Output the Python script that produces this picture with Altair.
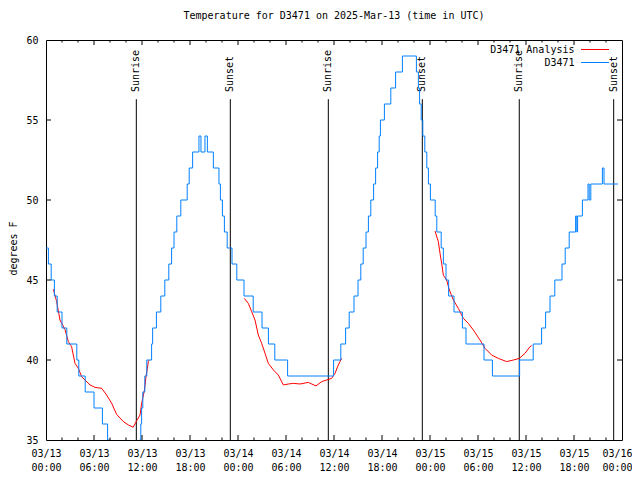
import altair as alt
import pandas as pd

# ---------------- data ----------------
# D3471 observations (change points, hours since 03/13 00:00 UTC, deg F)
blue_hours = [0.00, 0.30, 0.65, 1.05, 1.40, 2.00, 2.60, 3.85, 4.10, 4.90, 6.00, 7.05, 7.70, 8.00,
              11.70, 11.85, 11.95, 12.10, 12.35, 12.60, 13.20, 13.33, 13.80, 14.35, 14.85, 15.35,
              15.70, 16.00, 16.35, 16.85, 17.65, 17.90, 18.33, 19.12, 19.37, 19.87, 20.17, 20.92,
              21.62, 21.80, 22.05, 22.30, 22.65, 23.25, 23.85, 24.75, 25.90, 27.00, 27.80, 28.60,
              30.20, 35.95, 36.85, 37.45, 37.90, 38.50, 39.00, 39.35, 39.65, 40.00, 40.30, 40.60,
              40.95, 41.20, 41.45, 41.65, 41.80, 42.30, 43.10, 43.70, 44.55, 46.30, 46.55, 46.70,
              46.90, 47.10, 47.35, 47.60, 47.80, 48.05, 48.65, 48.85, 49.40, 49.67, 50.00, 50.33,
              51.00, 52.05, 52.50, 54.75, 55.80, 59.20, 60.90, 61.95, 62.45, 63.00, 63.60, 64.50,
              64.90, 65.40, 66.20, 66.35, 66.45, 67.05, 67.75, 67.90, 68.10, 69.55, 69.75, 71.50]
blue_temps = [47, 46, 45, 44, 43, 42, 41, 40, 39, 38, 37, 36, 35, 34,
              35, 36, 37, 38, 39, 40, 41, 42, 43, 44, 45, 46,
              47, 48, 49, 50, 51, 52, 53, 54, 53, 54, 53, 52,
              51, 50, 49, 48, 47, 46, 45, 44, 43, 42, 41, 40,
              39, 40, 41, 42, 43, 44, 45, 46, 47, 48, 49, 50,
              51, 52, 53, 54, 55, 56, 57, 58, 59, 58, 57, 56,
              55, 54, 53, 52, 51, 50, 49, 48, 47, 46, 45, 44,
              43, 42, 41, 40, 39, 40, 41, 42, 43, 44, 45, 46,
              47, 48, 49, 48, 49, 50, 51, 50, 51, 52, 51, 51]

# D3471 Analysis (three separate pieces)
red1_hours = [0.92, 1.33, 1.75, 2.375, 2.79, 3.2, 3.625, 4.04, 4.46, 4.875, 5.5, 6.125, 6.96,
              7.58, 8.2, 8.83, 9.67, 10.3, 10.9, 11.33, 11.75, 11.96, 12.3, 12.5, 12.8, 12.9]
red1_temps = [44.42, 43.65, 42.5, 41.9, 41.15, 40.83, 39.79, 39.48, 38.96, 38.75, 38.44, 38.29,
              38.23, 37.81, 37.3, 36.6, 36.15, 35.94, 35.8, 36.2, 36.56, 37.3, 38.1, 38.96, 39.9, 40.0]
red2_hours = [24.79, 25.29, 25.71, 26.125, 26.54, 26.96, 27.375, 27.79, 28.42, 29.04, 29.67,
              30.29, 30.92, 31.75, 32.79, 33.21, 33.75, 34.46, 35.08, 35.71, 36.125, 36.54, 36.96]
red2_temps = [43.85, 43.54, 43.02, 42.5, 41.56, 41.04, 40.42, 39.79, 39.38, 39.06, 38.44,
              38.5, 38.54, 38.5, 38.6, 38.5, 38.38, 38.65, 38.75, 38.85, 39.17, 39.69, 40.1]
red3_hours = [48.625, 49.04, 49.25, 49.46, 49.67, 50.08, 50.42, 50.92, 51.54, 52.17, 52.79,
              53.42, 54.25, 54.875, 55.71, 56.54, 57.58, 58.42, 59.17, 59.875, 60.5, 60.71]
red3_temps = [48.06, 47.4, 46.67, 46.04, 45.3, 45.0, 44.375, 43.75, 43.23, 42.6, 42.29,
              41.875, 41.25, 40.73, 40.31, 40.1, 39.9, 40.0, 40.1, 40.42, 40.83, 40.9]

event_hours = [11.29, 23.04, 35.29, 47.04, 59.16, 70.96]
event_labels = ["Sunrise", "Sunset", "Sunrise", "Sunset", "Sunrise", "Sunset"]

x_tick_values = list(range(0, 73, 6))
y_tick_values = [35, 40, 45, 50, 55, 60]
legend_labels = ["D3471 Analysis", "D3471"]
title_text = "Temperature for D3471 on 2025-Mar-13 (time in UTC)"
y_title = "degrees F"

# ---------------- tables ----------------
blue_df = pd.DataFrame({"h": blue_hours, "t": blue_temps})
red_df = pd.concat([
    pd.DataFrame({"h": red1_hours, "t": red1_temps, "seg": 1}),
    pd.DataFrame({"h": red2_hours, "t": red2_temps, "seg": 2}),
    pd.DataFrame({"h": red3_hours, "t": red3_temps, "seg": 3}),
])
ev_df = pd.DataFrame({"h": event_hours, "label": event_labels,
                      "top": 56.3, "bot": 35.0, "ylab": 56.75})
major_df = pd.DataFrame({"h": [v for v in x_tick_values if 0 < v < 72]})
minor_df = pd.DataFrame({"h": [v for v in range(2, 72, 2) if v % 6]})
ytick_df = pd.DataFrame({"t": [v for v in y_tick_values if 35 < v < 60]})

FONT = "DejaVu Sans Mono"
RED = "#ff0000"
BLUE = "#0080ff"

xscale = alt.Scale(domain=[0, 72], nice=False, zero=False)
yscale = alt.Scale(domain=[35, 60], nice=False, zero=False)
xaxis = alt.Axis(values=x_tick_values, title=None, grid=False, ticks=False, domain=False,
                 labelFont=FONT, labelFontSize=10, labelColor="black", labelPadding=8,
                 labelLineHeight=14, labelFlush=False, labelOverlap=False,
                 labelOffset={"condition": {"test": "datum.value >= 72", "value": -5}, "value": 0},
                 labelExpr="['03/' + (13 + floor(datum.value / 24)), "
                           "(datum.value % 24 < 10 ? '0' : '') + (datum.value % 24) + ':00']")
yaxis = alt.Axis(values=y_tick_values, title=y_title, grid=False, ticks=False, domain=False,
                 labelFont=FONT, labelFontSize=10, labelColor="black", labelPadding=8,
                 titleFont=FONT, titleFontSize=10, titleFontWeight="normal", titleColor="black",
                 titleX=-33, titleY=208, titleAlign="center", titleBaseline="middle",
                 titleAngle=270)


def X(f):
    return alt.X(f, type="quantitative", scale=xscale, axis=xaxis)


def Y(f):
    return alt.Y(f, type="quantitative", scale=yscale, axis=yaxis)


events = alt.Chart(ev_df).mark_rule(color="black", strokeWidth=1).encode(
    x=X("h"), y=Y("top"), y2="bot")
event_text = alt.Chart(ev_df).mark_text(font=FONT, fontSize=10, angle=270, align="left",
                                        baseline="middle", color="black").encode(
    x=X("h"), y=Y("ylab"), text="label:N")
red = alt.Chart(red_df).mark_line(color=RED, strokeWidth=1, clip=True).encode(
    x=X("h"), y=Y("t"), detail="seg:N")
blue = alt.Chart(blue_df).mark_line(color=BLUE, strokeWidth=1, clip=True,
                                    interpolate="step-after").encode(
    x=X("h"), y=Y("t"))

tick_layers = [
    alt.Chart(major_df).mark_rule(color="black").encode(x=X("h"), y=alt.value(400), y2=alt.value(395)),
    alt.Chart(major_df).mark_rule(color="black").encode(x=X("h"), y=alt.value(0), y2=alt.value(5)),
    alt.Chart(minor_df).mark_rule(color="black").encode(x=X("h"), y=alt.value(400), y2=alt.value(397.5)),
    alt.Chart(minor_df).mark_rule(color="black").encode(x=X("h"), y=alt.value(0), y2=alt.value(2.5)),
    alt.Chart(ytick_df).mark_rule(color="black").encode(y=Y("t"), x=alt.value(0), x2=alt.value(5)),
    alt.Chart(ytick_df).mark_rule(color="black").encode(y=Y("t"), x=alt.value(576), x2=alt.value(571)),
]

leg_layers = []
for i, (lab, col) in enumerate(zip(legend_labels, [RED, BLUE])):
    d = pd.DataFrame({"label": [lab]})
    leg_layers.append(alt.Chart(d).mark_text(font=FONT, fontSize=10, align="right",
                                             baseline="middle", color="black").encode(
        text="label:N", x=alt.value(528.5), y=alt.value(10 + 13 * i)))
    leg_layers.append(alt.Chart(d).mark_rule(color=col, strokeWidth=1).encode(
        x=alt.value(535), x2=alt.value(563), y=alt.value(9.5 + 13 * i)))

chart = alt.layer(events, event_text, red, blue, *tick_layers, *leg_layers).properties(
    width=576, height=400,
    title=alt.Title(title_text, font=FONT, fontSize=10, fontWeight="normal", color="black",
                    anchor="middle", frame="group", offset=14),
    autosize=alt.AutoSizeParams(type="none"),
    padding={"left": 38, "top": 32, "right": 10, "bottom": 31},
    background="white",
).configure_view(stroke="black", strokeWidth=1)

chart.save("out.html", embed_options={"renderer": "svg", "actions": False})
